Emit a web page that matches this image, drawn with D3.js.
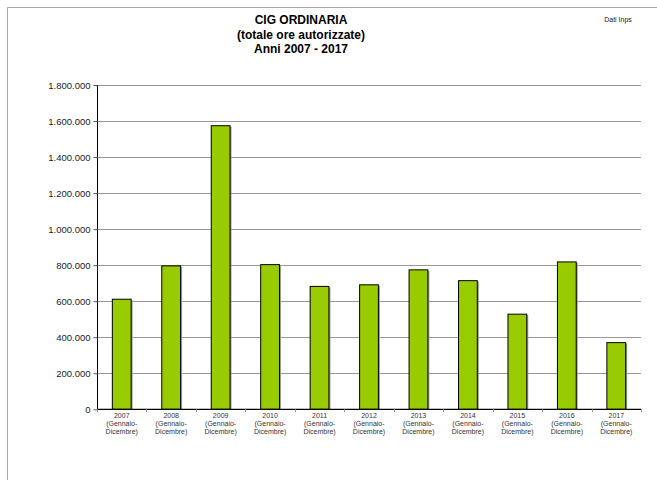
<!DOCTYPE html>
<html><head><meta charset="utf-8">
<script src="https://cdn.jsdelivr.net/npm/d3@7"></script>
<style>body{margin:0;background:#fff}svg{display:block;font-family:"Liberation Sans",Arial,sans-serif}</style>
</head><body>
<svg id="c" width="657" height="480"></svg>
<script>
const years = ["2007","2008","2009","2010","2011","2012","2013","2014","2015","2016","2017"];
const values = [611000,796000,1574000,803000,682000,691000,774000,714000,528000,818000,370000];
const yTicks = [0,200000,400000,600000,800000,1000000,1200000,1400000,1600000,1800000];
const titleLines = ["CIG ORDINARIA","(totale ore autorizzate)","Anni 2007 - 2017"];
const subLines = ["(Gennaio-","Dicembre)"];

const svg = d3.select("#c");
const m = {l:97, r:641, t:85, b:409.3};
svg.append("path").attr("d","M7.5,480 L7.5,7.5 L657,7.5").attr("fill","none").attr("stroke","#aaa").attr("stroke-width",1);

const x = d3.scaleBand().domain(years).range([m.l,m.r]).paddingInner(0.6).paddingOuter(0.3);
const y = d3.scaleLinear().domain([0,1800000]).range([m.b,m.t]);
const fmt = v => d3.format(",")(v).replace(/,/g,".");

svg.append("g").selectAll("line").data(yTicks.filter(d=>d>0)).join("line")
  .attr("x1",m.l).attr("x2",m.r).attr("y1",d=>Math.round(y(d))+0.5).attr("y2",d=>Math.round(y(d))+0.5)
  .attr("stroke","#999").attr("stroke-width",1);

const ya = svg.append("g").attr("transform",`translate(${m.l+0.5},0)`)
  .call(d3.axisLeft(y).tickValues(yTicks).tickFormat(fmt).tickSize(4).tickPadding(3));
ya.select(".domain").attr("stroke","#000").attr("d",`M0,${m.t}V${m.b}`);
ya.selectAll(".tick line").attr("stroke","#555");
ya.selectAll(".tick text").attr("font-size",9.5).attr("fill","#222").attr("font-family","Liberation Sans, Arial, sans-serif");

svg.append("g").selectAll("rect").data(years).join("rect")
  .attr("x",d=>x(d)+1).attr("y",(d,i)=>y(values[i])+1)
  .attr("width",x.bandwidth()).attr("height",(d,i)=>m.b-y(values[i])-1)
  .attr("fill","#999");
svg.append("g").selectAll("rect").data(years).join("rect")
  .attr("x",d=>x(d)+0.5).attr("y",(d,i)=>y(values[i]))
  .attr("width",x.bandwidth()-1).attr("height",(d,i)=>m.b-y(values[i]))
  .attr("fill","#99cc00").attr("stroke","#000").attr("stroke-width",1);

const bx = svg.append("g");
bx.append("line").attr("x1",m.l).attr("x2",m.r).attr("y1",m.b).attr("y2",m.b).attr("stroke","#000").attr("stroke-width",1.3);
const bounds = d3.range(years.length+1).map(i=>m.l + i*(m.r-m.l)/years.length);
bx.selectAll("line.t").data(bounds).join("line").attr("class","t")
  .attr("x1",d=>Math.round(d)+0.5).attr("x2",d=>Math.round(d)+0.5).attr("y1",m.b).attr("y2",m.b+3)
  .attr("stroke","#999");
const xl = bx.selectAll("text.xl").data(years).join("text").attr("class","xl")
  .attr("text-anchor","middle").attr("font-size",7).attr("fill","#333")
  .attr("transform",d=>`translate(${x(d)+x.bandwidth()/2},0)`);
xl.append("tspan").attr("x",0).attr("y",m.b+9).text(d=>d);
subLines.forEach((s,i)=>xl.append("tspan").attr("x",0).attr("y",m.b+17+8*i).text(s));

svg.append("g").selectAll("text").data(titleLines).join("text")
  .attr("x",301).attr("y",(d,i)=>24+i*14.5).attr("text-anchor","middle")
  .attr("font-size",12).attr("font-weight","bold").attr("fill","#000").text(d=>d);
svg.append("text").attr("x",618).attr("y",22).attr("text-anchor","middle").attr("font-size",7).attr("fill","#222").text("Dati Inps");
</script>
</body></html>
